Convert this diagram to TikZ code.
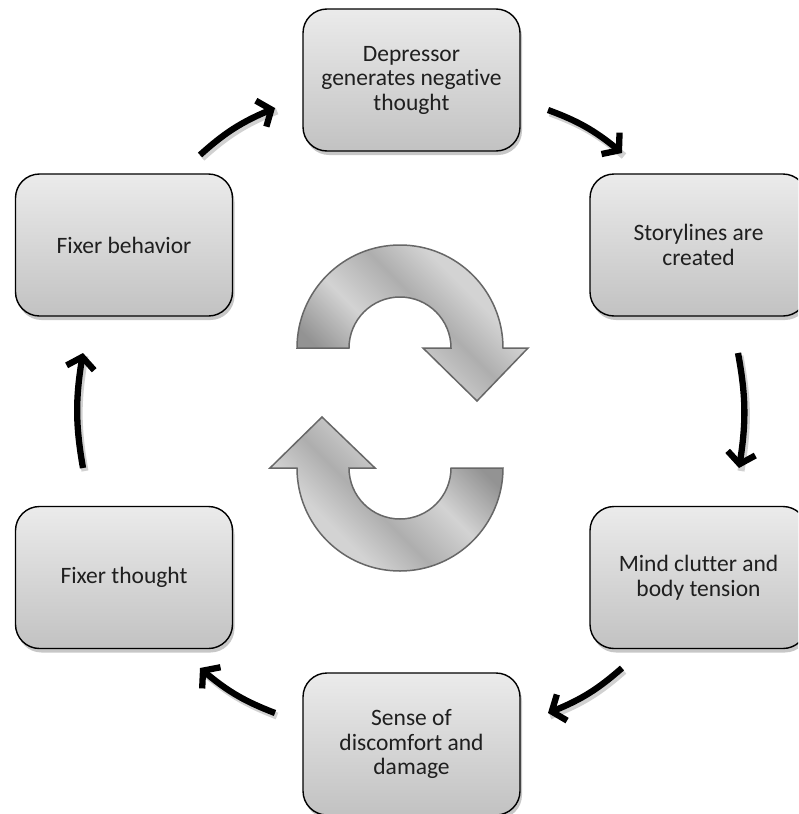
\documentclass[tikz,border=0pt]{standalone}
\usepackage{fontspec}
\setmainfont{Carlito}[Ligatures={NoCommon}]
\usetikzlibrary{arrows.meta,shadows,bending}
\definecolor{boxtop}{HTML}{EBEBEB}
\definecolor{boxbot}{HTML}{C2C2C2}
\definecolor{txt}{HTML}{1F1F1F}
\definecolor{cdark}{HTML}{939393}
\definecolor{clight}{HTML}{D3D3D3}
\definecolor{cmid}{HTML}{AEAEAE}
\definecolor{cedge}{HTML}{676767}
\pgfdeclarehorizontalshading{cycshade}{100bp}{color(0bp)=(cdark); color(28bp)=(cdark); color(42bp)=(clight); color(55bp)=(cmid); color(66bp)=(clight); color(100bp)=(clight)}
\tikzset{
  stepbox/.style={draw=black, line width=1.4pt, rounded corners=24pt,
    minimum width=217pt, minimum height=142pt, inner sep=0pt,
    top color=boxtop, bottom color=boxbot, align=center, text=txt,
    font=\fontsize{23.5}{24.5}\selectfont,
    drop shadow={shadow xshift=2pt, shadow yshift=-4pt, opacity=0.22, fill=black}},
  cycarrow/.style={line width=6.3pt, draw=black, -{Straight Barb[length=11pt,width=28pt,flex]},
    preaction={draw=black!18, line width=7pt, -, transform canvas={shift={(2pt,-3pt)}}}},
  bigarrow/.style={draw=cedge, line width=1.5pt, shading=cycshade, line join=miter}
}
\begin{document}
\begin{tikzpicture}[x=1pt,y=-1pt]
\clip (0,0) rectangle (798,814);
\fill[white] (0,0) rectangle (798,814);

\node[stepbox] (n1) at (411.5,80) {Depressor\\generates negative\\thought};
\node[stepbox] (n2) at (698.5,245) {Storylines are\\created};
\node[stepbox] (n3) at (698.5,577.5) {Mind clutter and\\body tension};
\node[stepbox] (n4) at (411.5,744) {Sense of\\discomfort and\\damage};
\node[stepbox] (n5) at (124,577.5) {Fixer thought};
\node[stepbox] (n6) at (124,245) {Fixer behavior};

\coordinate (a1s) at (200,155); \coordinate (a1e) at (275,108);
\coordinate (a2s) at (548,110); \coordinate (a2e) at (622,153);
\coordinate (a3s) at (738,353); \coordinate (a3e) at (739,468);
\coordinate (a4s) at (622,668); \coordinate (a4e) at (548,713);
\coordinate (a5s) at (275,713); \coordinate (a5e) at (200,668);
\coordinate (a6s) at (83,468);  \coordinate (a6e) at (83,353);

\draw[cycarrow] (a1s) to[bend left=10] (a1e);
\draw[cycarrow] (a2s) to[bend left=10] (a2e);
\draw[cycarrow] (a3s) to[bend left=10] (a3e);
\draw[cycarrow] (a4s) to[bend left=10] (a4e);
\draw[cycarrow] (a5s) to[bend left=10] (a5e);
\draw[cycarrow] (a6s) to[bend left=10] (a6e);

% central circular arrows
\path[bigarrow, shading angle=45]
  (297,348) arc[start angle=180, end angle=360, radius=103]
  -- (528,348) -- (477,401) -- (423,348) -- (451,348)
  arc[start angle=0, end angle=-180, radius=51] -- cycle;
\path[bigarrow, shading angle=225]
  (503,468) arc[start angle=0, end angle=180, radius=103]
  -- (270,468) -- (322,417) -- (375,468) -- (349,468)
  arc[start angle=180, end angle=0, radius=51] -- cycle;
\end{tikzpicture}
\end{document}
